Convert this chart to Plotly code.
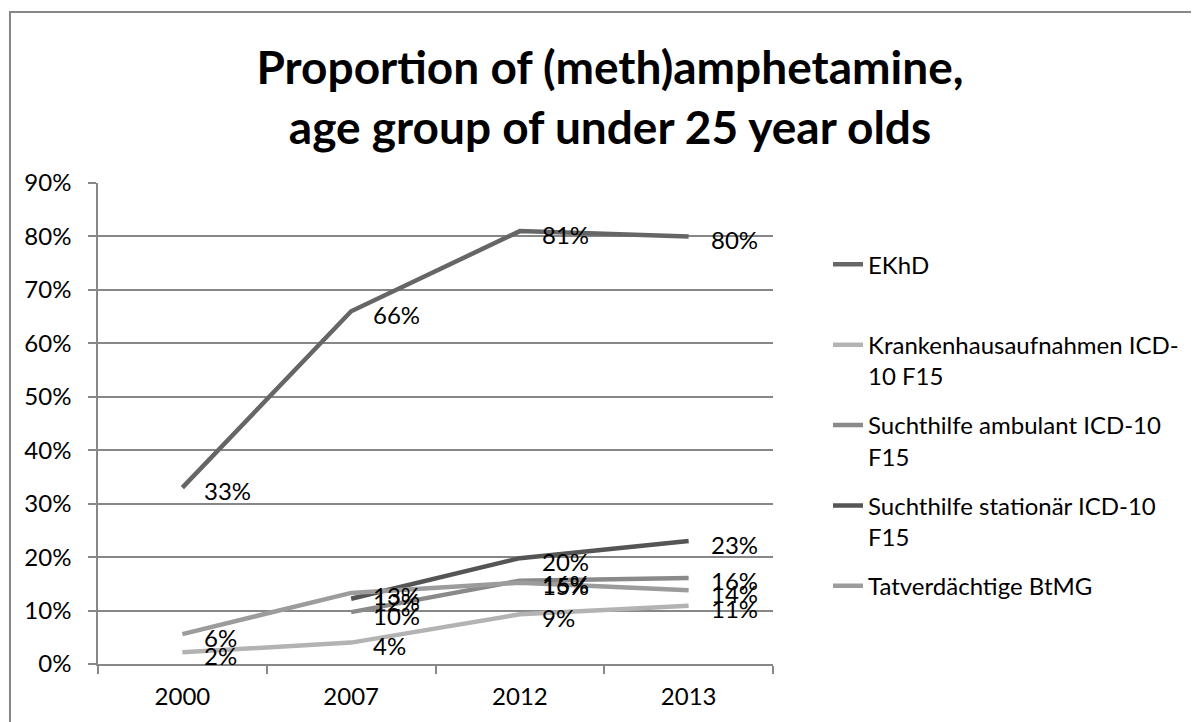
import plotly.graph_objects as go

years = ["2000", "2007", "2012", "2013"]
series_names = [
    "EKhD",
    "Krankenhausaufnahmen ICD-10 F15",
    "Suchthilfe ambulant ICD-10 F15",
    "Suchthilfe stationär ICD-10 F15",
    "Tatverdächtige BtMG",
]
legend_labels = [
    "EKhD<br>\u00a0",
    "Krankenhausaufnahmen ICD-<br>10 F15",
    "Suchthilfe ambulant ICD-10<br>F15",
    "Suchthilfe stationär ICD-10<br>F15",
    "Tatverdächtige BtMG",
]
ekhd = [0.33, 0.66, 0.81, 0.80]
krankenhaus = [0.022, 0.040, 0.093, 0.109]
ambulant = [None, 0.097, 0.156, 0.161]
stationaer = [None, 0.122, 0.198, 0.230]
tatverdaechtige = [0.056, 0.133, 0.152, 0.138]
y_ticks = [0.0, 0.1, 0.2, 0.3, 0.4, 0.5, 0.6, 0.7, 0.8, 0.9]

all_values = [ekhd, krankenhaus, ambulant, stationaer, tatverdaechtige]
colors = ["#666666", "#b3b3b3", "#8a8a8a", "#555555", "#9c9c9c"]

FONT = "Lato"
FS = 24
fig = go.Figure()
annotations = []
for name, lab, vals, col in zip(series_names, legend_labels, all_values, colors):
    fig.add_trace(go.Scatter(
        x=years, y=vals, mode="lines", name=lab,
        line=dict(color=col, width=4.5),
        legendgroup=name, hoverinfo="name+y",
    ))
    for i, v in enumerate(vals):
        if v is None:
            continue
        annotations.append(dict(
            x=i, y=v, xref="x", yref="y", text=f"{round(v * 100):.0f}%",
            showarrow=False, xanchor="left", yanchor="middle",
            xshift=20, yshift=-3,
            font=dict(family=FONT, size=FS, color="#000000"),
        ))

# chart border (top and left edges)
fig.add_shape(type="path", xref="paper", yref="paper",
              path="M -0.1304 -0.3 L -0.1304 1.3555 L 1.8 1.3555",
              line=dict(color="#878787", width=2))

fig.update_layout(
    width=1191, height=714,
    margin=dict(l=90, r=426, t=175, b=58, pad=0),
    paper_bgcolor="white", plot_bgcolor="white",
    font=dict(family=FONT, size=FS, color="#000000"),
    title=dict(
        text="<b>Proportion of (meth)amphetamine,<br>age group of under 25 year olds</b>",
        x=602 / 1191, xref="container", xanchor="center",
        y=1 - 76 / 714, yref="container", yanchor="middle",
        font=dict(family=FONT, size=46, color="#000000"),
    ),
    showlegend=True,
    legend=dict(
        x=1.0815, xanchor="left", y=0.877, yanchor="top",
        font=dict(family=FONT, size=FS, color="#000000"),
        tracegroupgap=15, valign="top", itemwidth=30,
        bgcolor="rgba(0,0,0,0)",
    ),
    annotations=annotations,
)
fig.update_xaxes(
    type="category", range=[-0.5, 3.5],
    showgrid=False, showline=True, linecolor="#878787", linewidth=1.5,
    ticks="outside", tickson="boundaries", ticklen=8, tickcolor="#878787", tickwidth=1.5,
    tickfont=dict(family=FONT, size=FS, color="#000000"),
    ticklabelstandoff=10, zeroline=False,
)
fig.update_yaxes(
    range=[0, 0.9], tickvals=y_ticks, tickformat=".0%",
    showgrid=True, gridcolor="#878787", gridwidth=1.5,
    showline=True, linecolor="#878787", linewidth=1.5,
    ticks="outside", ticklen=8, tickcolor="#878787", tickwidth=1.5,
    tickfont=dict(family=FONT, size=FS, color="#000000"),
    ticklabelstandoff=12, zeroline=False,
)

fig.write_html("out.html")
